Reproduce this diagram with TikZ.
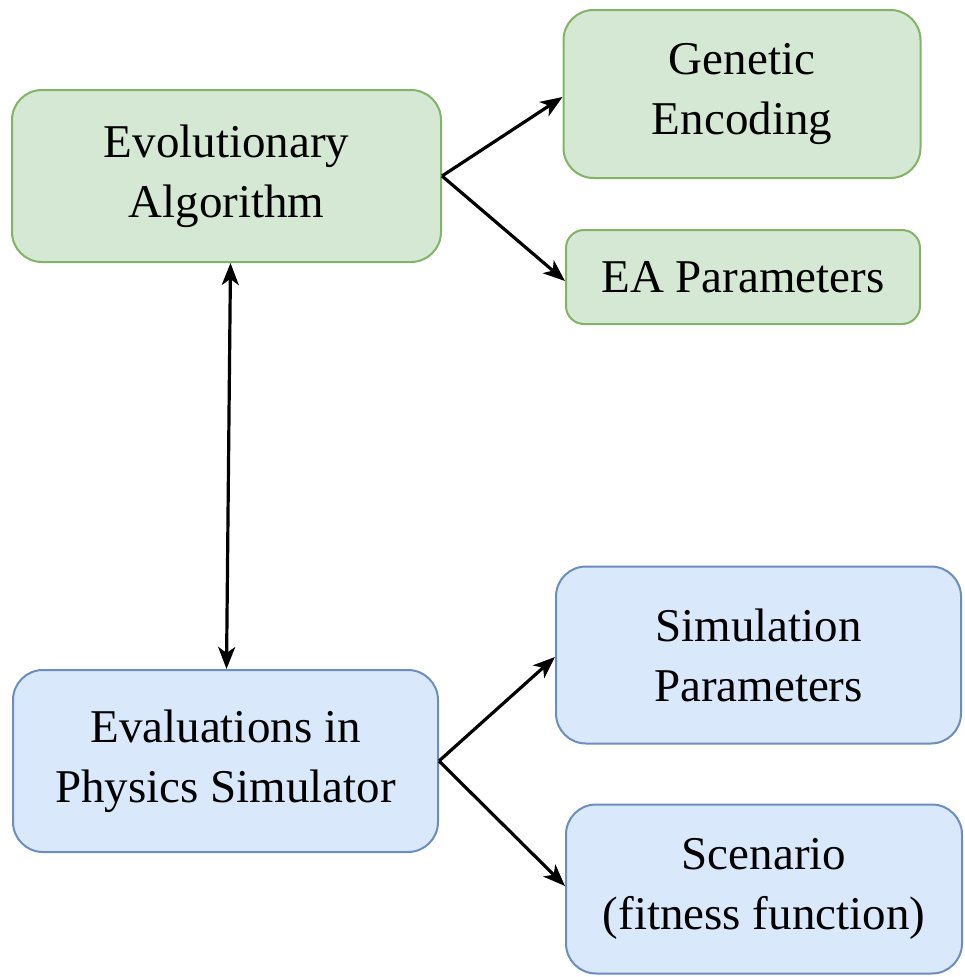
\documentclass[tikz,border=0pt]{standalone}
\usepackage{fontspec}
\setmainfont{Liberation Serif}
\usetikzlibrary{arrows.meta,calc}
\definecolor{gfill}{HTML}{D5E8D4}
\definecolor{gdraw}{HTML}{82B366}
\definecolor{bfill}{HTML}{DAE8FC}
\definecolor{bdraw}{HTML}{6C8EBF}
\begin{document}
\begin{tikzpicture}[x=1pt,y=-1pt,
  box/.style={rectangle, rounded corners=30pt, line width=2pt, align=center,
    inner sep=0pt, font=\fontsize{47}{60}\selectfont},
  gbox/.style={box, fill=gfill, draw=gdraw},
  bbox/.style={box, fill=bfill, draw=bdraw},
  conn/.style={line width=3.2pt, -{Stealth[length=22pt,width=17pt,inset=6pt]}},
  dconn/.style={line width=3.2pt, {Stealth[length=22pt,width=17pt,inset=6pt]}-{Stealth[length=22pt,width=17pt,inset=6pt]}}]
\useasboundingbox (0,0) rectangle (964,977);
\node[gbox, minimum width=429pt, minimum height=172pt] (ea) at (226.5,176) {Evolutionary\\Algorithm};
\node[gbox, minimum width=357pt, minimum height=168pt] (ge) at (742,94) {Genetic\\Encoding};
\node[gbox, minimum width=354pt, minimum height=94pt, rounded corners=18pt] (eap) at (743,277) {EA Parameters};
\node[bbox, minimum width=425pt, minimum height=182pt] (eps) at (225.5,761) {Evaluations in\\Physics Simulator};
\node[bbox, minimum width=405pt, minimum height=177pt] (sp) at (758.5,655) {Simulation\\Parameters};
\node[bbox, minimum width=396pt, minimum height=169pt] (sc) at (764,889) {Scenario\\(fitness function)};
\draw[conn] (ea.east) -- ($(ge.west)+(0,3)$);
\draw[conn] (ea.east) -- ($(eap.west)+(0,4)$);
\draw[conn] (eps.east) -- ($(sp.west)+(0,2)$);
\draw[conn] (eps.east) -- ($(sc.west)+(0,-3)$);
\draw[dconn] ($(ea.south)+(4,0)$) -- ($(eps.north)+(1,0)$);
\end{tikzpicture}
\end{document}
